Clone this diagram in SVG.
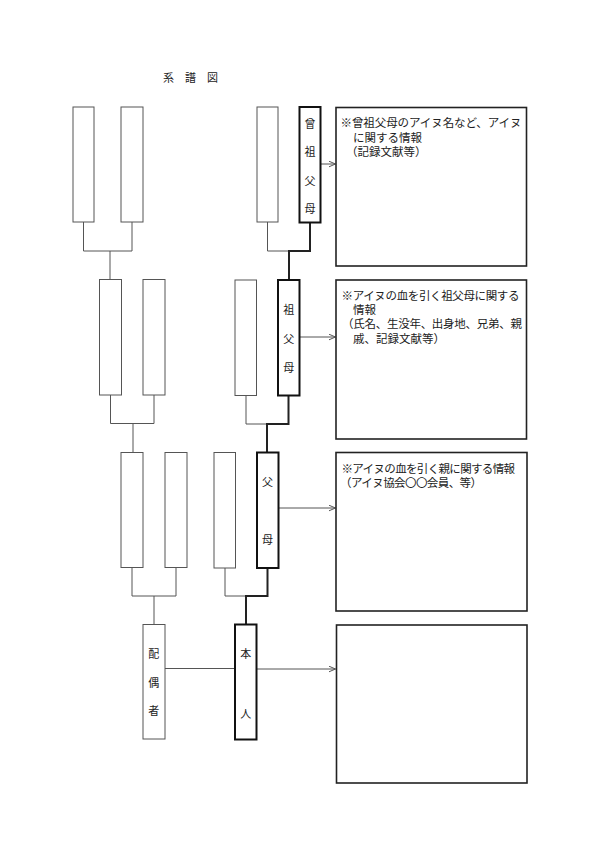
<svg xmlns="http://www.w3.org/2000/svg" width="599" height="854" viewBox="0 0 599 854">
<style>
text{font-family:"Noto Sans CJK JP","Noto Sans CJK SC",sans-serif;fill:#222;}
.title{font-size:11px;}
.lab{font-size:11px;text-anchor:middle;}
.info{font-size:11.5px;}
.thin{fill:#fff;stroke:#555;stroke-width:1;}
.bold{fill:#fff;stroke:#111;stroke-width:2;}
.ibox{fill:#fff;stroke:#222;stroke-width:1.6;}
.cl{fill:none;stroke:#555;stroke-width:1;}
.ck{fill:none;stroke:#222;stroke-width:2;}
.ar{fill:none;stroke:#555;stroke-width:1;marker-end:url(#arr);}
</style>
<defs>
<marker id="arr" markerUnits="userSpaceOnUse" markerWidth="9" markerHeight="8" refX="7" refY="3.5" orient="auto">
<path d="M0,0.5 L7,3.5 L0,6.5" fill="none" stroke="#555" stroke-width="1"/>
</marker>
</defs>
<rect width="599" height="854" fill="#fff"/>
<g id="title"><text class="title" x="163" y="82">系</text><text class="title" x="185" y="82">譜</text><text class="title" x="207" y="82">図</text></g>

<g id="connectors">
<path class="cl" d="M83.5,222 V251 H132 V222 M110,251 V279.5"/>
<path class="cl" d="M267.5,222 V251 H289"/>
<path class="ck" d="M310,222.5 V251 H289 V280"/>
<path class="cl" d="M110.5,395 V423.5 H154 V395 M133,423.5 V452.5"/>
<path class="cl" d="M246,395.5 V424 H267"/>
<path class="ck" d="M288.5,395.5 V424 H267 V452.5"/>
<path class="cl" d="M132,567.5 V596 H176 V567.5 M154,596 V624.5"/>
<path class="cl" d="M225,568 V596 H246"/>
<path class="ck" d="M267.5,568 V596 H246 V624.5"/>
<path class="cl" d="M165,668.5 H235"/>
<path class="ar" d="M321,164 H335.5"/>
<path class="ar" d="M299.5,337 H335.5"/>
<path class="ar" d="M278.5,508 H335.5"/>
<path class="ar" d="M256.5,669 H335.5"/>
</g>

<g id="ggp1"><rect class="thin" x="73" y="107" width="21" height="115"/></g>
<g id="ggp2"><rect class="thin" x="121" y="107" width="22" height="115"/></g>
<g id="ggp3"><rect class="thin" x="257" y="107" width="21" height="115"/></g>
<g id="ggp4"><rect class="bold" x="299.5" y="107" width="21" height="115.5"/>
<text class="lab" x="310" y="127.5">曾</text><text class="lab" x="310" y="156">祖</text><text class="lab" x="310" y="185">父</text><text class="lab" x="310" y="212.5">母</text></g>

<g id="gp1"><rect class="thin" x="99.5" y="279.5" width="22" height="115.5"/></g>
<g id="gp2"><rect class="thin" x="143" y="279.5" width="22" height="115.5"/></g>
<g id="gp3"><rect class="thin" x="235" y="280" width="21.5" height="115.5"/></g>
<g id="gp4"><rect class="bold" x="278" y="280" width="21.5" height="115.5"/>
<text class="lab" x="288.8" y="314">祖</text><text class="lab" x="288.8" y="343">父</text><text class="lab" x="288.8" y="371.5">母</text></g>

<g id="p1"><rect class="thin" x="121" y="452.5" width="22" height="115"/></g>
<g id="p2"><rect class="thin" x="165" y="452.5" width="22" height="115"/></g>
<g id="p3"><rect class="thin" x="214" y="452.5" width="21.5" height="115.5"/></g>
<g id="p4"><rect class="bold" x="257" y="452.5" width="21.5" height="115.5"/>
<text class="lab" x="267.5" y="486">父</text><text class="lab" x="267.5" y="543.5">母</text></g>

<g id="spouse"><rect class="thin" x="143" y="624.5" width="22" height="114.5"/>
<text class="lab" x="153.8" y="657.5">配</text><text class="lab" x="153.8" y="686.5">偶</text><text class="lab" x="153.8" y="715">者</text></g>
<g id="self"><rect class="bold" x="235" y="624.5" width="21.5" height="115"/>
<text class="lab" x="245.8" y="657.5">本</text><text class="lab" x="245.8" y="717.5">人</text></g>

<g id="info1"><rect class="ibox" x="336" y="107.5" width="190.5" height="158.5"/>
<text class="info" x="340.5" y="127.3" textLength="181" lengthAdjust="spacing">※曾祖父母のアイヌ名など、アイヌ</text>
<text class="info" x="353" y="141.6">に関する情報</text>
<text class="info" x="346" y="156">（記録文献等）</text></g>

<g id="info2"><rect class="ibox" x="336" y="280" width="190.5" height="159"/>
<text class="info" x="341.5" y="299.8" textLength="178" lengthAdjust="spacing">※アイヌの血を引く祖父母に関する</text>
<text class="info" x="353" y="314.1">情報</text>
<text class="info" x="342" y="328.4" textLength="180" lengthAdjust="spacing">（氏名、生没年、出身地、兄弟、親</text>
<text class="info" x="353" y="342.7">戚、記録文献等）</text></g>

<g id="info3"><rect class="ibox" x="336" y="452.5" width="191" height="158.5"/>
<text class="info" x="341.5" y="473" textLength="173.5" lengthAdjust="spacing">※アイヌの血を引く親に関する情報</text>
<text class="info" x="340" y="487.3" textLength="142" lengthAdjust="spacing">（アイヌ協会〇〇会員、等）</text></g>

<g id="info4"><rect class="ibox" x="336.5" y="625" width="190.5" height="158"/></g>
</svg>
